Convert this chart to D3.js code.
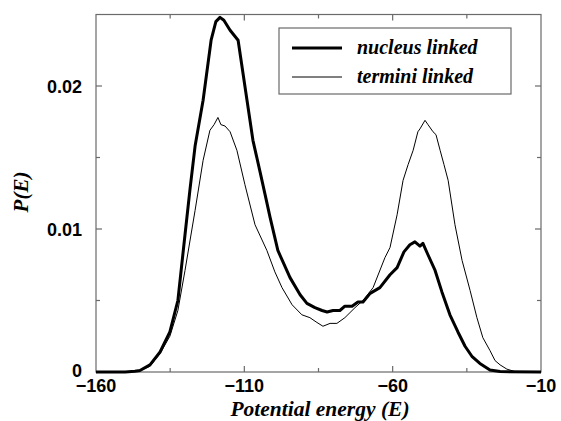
<!DOCTYPE html>
<html>
<head>
<meta charset="utf-8">
<script src="https://cdn.jsdelivr.net/npm/d3@7"></script>
<style>
  html, body { margin: 0; padding: 0; background: #fff; }
  svg { display: block; }
</style>
</head>
<body>
<svg id="chart" width="561" height="421"></svg>
<script>
// Potential energy grid and probability for the nucleus-linked chain
const nucleusE = [-160, -150.2, -146.9, -145.2, -141.8, -138.4, -135.1, -132.4, -130, -128.3, -126.6, -123.9,
  -121.2, -119.6, -118.2, -116.9, -114.8, -112.1, -109.1, -107.1, -104.7, -103, -101.3, -98.7, -94.6,
  -91.2, -88.9, -86.2, -83.8, -82.1, -80.1, -77.8, -76.1, -73.7, -71.7, -70, -67.6, -64.3, -60.9,
  -58.5, -56.2, -54.2, -52.5, -50.8, -49.8, -48.1, -45.7, -43.4, -40.7, -38, -35.6, -33.3, -30.6,
  -27.2, -23.8, -10];
const nucleusP = [0, 0, 0.00005, 0.0001, 0.0005, 0.0014, 0.0028, 0.005, 0.0096, 0.0128, 0.0158, 0.019,
  0.0232, 0.0245, 0.0248, 0.0246, 0.0239, 0.0232, 0.019, 0.0162, 0.014, 0.0124, 0.0108, 0.0085, 0.0066,
  0.0054, 0.0048, 0.0045, 0.0043, 0.0042, 0.0043, 0.0043, 0.0046, 0.0046, 0.0049, 0.0049, 0.0055, 0.0059, 0.0068,
  0.0073, 0.0084, 0.0089, 0.0091, 0.0088, 0.009, 0.0082, 0.0071, 0.0056, 0.004, 0.0028, 0.0018, 0.0011, 0.0006,
  0.00014, 0.00003, 0];

// Potential energy grid and probability for the termini-linked chain
const terminiE = [-160, -150.2, -145.2, -141.8, -138.4, -135.1, -132.4, -130, -126.6, -123.9, -121.6,
  -120.2, -118.9, -117.9, -116.5, -114.8, -112.5, -109.8, -106.4, -102.4, -99.7, -97.3, -93.9, -90.6,
  -87.9, -85.8, -83.5, -81.1, -78.8, -76.1, -72.7, -70, -66.6, -62.6, -60.9, -58.5, -56.5, -54.8,
  -53.1, -51.5, -50.8, -49.1, -48.1, -46.4, -45.4, -44, -42.7, -41.3, -39, -36.6, -33.9, -31.6,
  -29.6, -27.2, -25.5, -23.8, -21.5, -18.8, -10];
const terminiP = [0, 0, 0.0001, 0.0004, 0.0013, 0.0025, 0.0043, 0.0071, 0.0113, 0.0148, 0.0169,
  0.0173, 0.0178, 0.0173, 0.0172, 0.0168, 0.0155, 0.0131, 0.0103, 0.0085, 0.007, 0.0059, 0.0047, 0.004,
  0.0038, 0.0035, 0.0032, 0.0034, 0.0034, 0.0038, 0.0045, 0.005, 0.0059, 0.008, 0.0087, 0.011, 0.0134, 0.0145,
  0.0155, 0.0168, 0.017, 0.0176, 0.0173, 0.0168, 0.0166, 0.0155, 0.0145, 0.0134, 0.0103, 0.0078, 0.0057, 0.0038,
  0.0024, 0.0015, 0.0008, 0.0005, 0.0002, 0.00003, 0];

const xTicks = [-160, -110, -60, -10];
const xMinorTicks = [-135, -85, -35];
const yTicks = [0, 0.01, 0.02];
const yMinorTicks = [0.005, 0.015];
const yTickLabels = ["0", "0.01", "0.02"];

const seriesNames = ["nucleus linked", "termini linked"];
const seriesWidths = [3, 1];

const svg = d3.select("#chart");
const plotLeft = 96, plotRight = 541, plotTop = 14.5, plotBottom = 372;

const x = d3.scaleLinear().domain([-160, -10]).range([plotLeft, plotRight]);
const y = d3.scaleLinear().domain([0, 0.025]).range([plotBottom, plotTop]);

const frameColor = "#6a6a6a";

// Frame
svg.append("rect")
  .attr("x", plotLeft).attr("y", plotTop)
  .attr("width", plotRight - plotLeft).attr("height", plotBottom - plotTop)
  .attr("fill", "none").attr("stroke", frameColor).attr("stroke-width", 1.2);

// Inward ticks on all four sides
const tickG = svg.append("g").attr("stroke", frameColor).attr("stroke-width", 1.2);
function vTicks(vals, len) {
  vals.forEach(v => {
    tickG.append("line").attr("x1", x(v)).attr("x2", x(v)).attr("y1", plotBottom).attr("y2", plotBottom - len);
    tickG.append("line").attr("x1", x(v)).attr("x2", x(v)).attr("y1", plotTop).attr("y2", plotTop + len);
  });
}
function hTicks(vals, len) {
  vals.forEach(v => {
    tickG.append("line").attr("y1", y(v)).attr("y2", y(v)).attr("x1", plotLeft).attr("x2", plotLeft + len);
    tickG.append("line").attr("y1", y(v)).attr("y2", y(v)).attr("x1", plotRight).attr("x2", plotRight - len);
  });
}
vTicks(xTicks.slice(1, -1), 6);
vTicks(xMinorTicks, 4);
hTicks(yTicks.slice(1), 6);
hTicks(yMinorTicks, 4);

// Tick labels
const tickFont = "'Liberation Sans', Arial, sans-serif";
svg.append("g").selectAll("text").data(xTicks).join("text")
  .attr("x", d => x(d)).attr("y", 392)
  .attr("text-anchor", "middle")
  .attr("font-family", tickFont).attr("font-weight", "bold").attr("font-size", 18)
  .text(d => d3.format("d")(d).replace("-", "\u2013"));

svg.append("g").selectAll("text").data(yTicks).join("text")
  .attr("x", 82).attr("y", (d, i) => y(d) + (i === 0 ? 5 : 6.5))
  .attr("text-anchor", "end")
  .attr("font-family", tickFont).attr("font-weight", "bold").attr("font-size", 18)
  .text((d, i) => yTickLabels[i]);

// Axis titles
const titleFont = "'Liberation Serif', 'Times New Roman', serif";
svg.append("text")
  .attr("x", 320).attr("y", 415.5)
  .attr("text-anchor", "middle")
  .attr("font-family", titleFont).attr("font-weight", "bold").attr("font-style", "italic")
  .attr("font-size", 21.5)
  .text("Potential energy (E)");

svg.append("text")
  .attr("transform", "translate(28,192) rotate(-90)")
  .attr("text-anchor", "middle")
  .attr("font-family", titleFont).attr("font-weight", "bold").attr("font-style", "italic")
  .attr("font-size", 21)
  .text("P(E)");

// Curves
const line = d3.line().x(d => x(d[0])).y(d => y(d[1]));
const series = [
  d3.zip(nucleusE, nucleusP),
  d3.zip(terminiE, terminiP)
];
series.forEach((s, i) => {
  svg.append("path")
    .datum(s)
    .attr("d", line)
    .attr("fill", "none")
    .attr("stroke", "#000")
    .attr("stroke-width", seriesWidths[i])
    .attr("stroke-linejoin", "round");
});

// Legend
const lg = svg.append("g");
lg.append("rect")
  .attr("x", 279).attr("y", 28).attr("width", 232).attr("height", 66)
  .attr("fill", "#fff").attr("stroke", frameColor).attr("stroke-width", 1.2);
seriesNames.forEach((name, i) => {
  const ly = 48 + i * 29;
  lg.append("line")
    .attr("x1", 292).attr("x2", 342).attr("y1", ly).attr("y2", ly)
    .attr("stroke", "#000").attr("stroke-width", seriesWidths[i]);
  lg.append("text")
    .attr("x", 357).attr("y", ly + 6)
    .attr("font-family", titleFont).attr("font-weight", "bold").attr("font-style", "italic")
    .attr("font-size", 20)
    .text(name);
});
</script>
</body>
</html>
